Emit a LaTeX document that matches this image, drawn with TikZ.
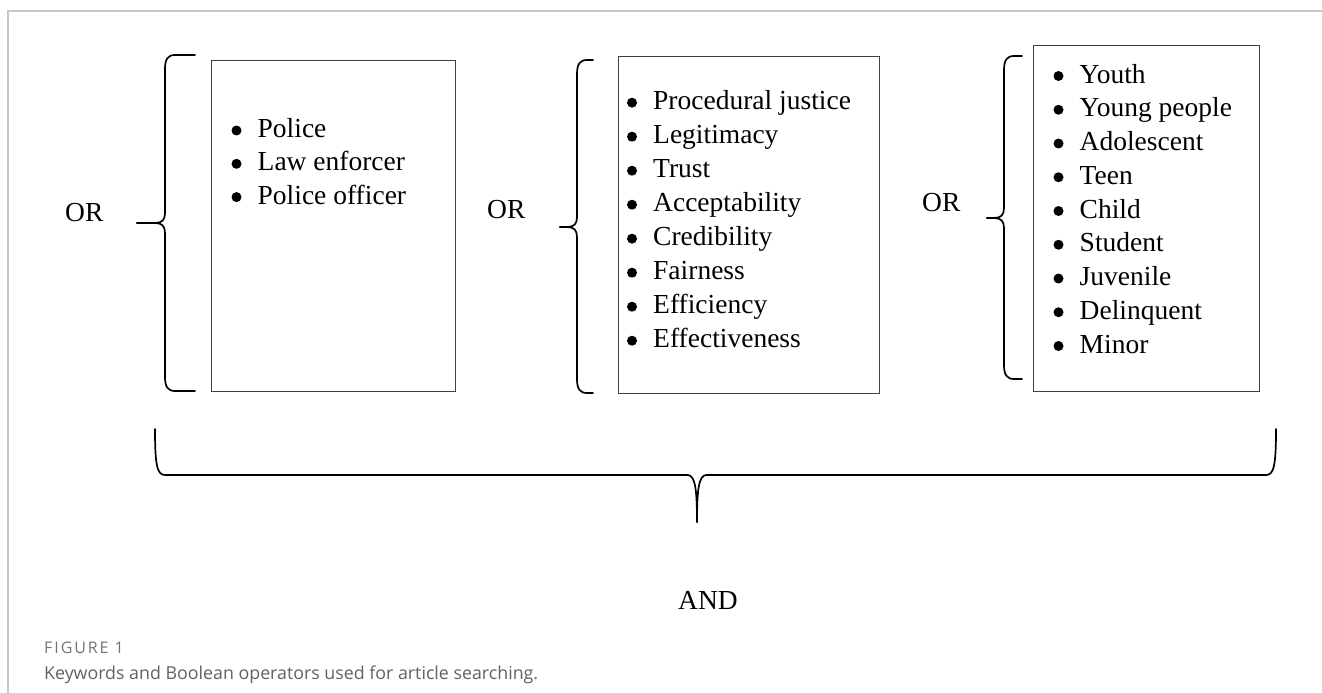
\documentclass[tikz,border=0pt]{standalone}
\usepackage{fontspec}
\setmainfont{Liberation Serif}
\newfontfamily\capfont{Open Sans}
\newfontfamily\labfont[LetterSpace=12]{Open Sans}

% curly brace opening to the right: arm end x, stem x, tip x, top y, tip y, bottom y
\newcommand{\kwbrace}[6]{%
  \draw[brace] (#1,#4) -- (#2+10,#4) .. controls (#2+3,#4) and (#2,#4+4) .. (#2,#4+14)
    -- (#2,#5-10) .. controls (#2,#5-3) and (#2-3,#5) .. (#2-10,#5) -- (#3,#5);
  \draw[brace] (#3,#5) -- (#2-10,#5) .. controls (#2-3,#5) and (#2,#5+3) .. (#2,#5+10)
    -- (#2,#6-14) .. controls (#2,#6-4) and (#2+3,#6) .. (#2+10,#6) -- (#1,#6);
}

\begin{document}
\begin{tikzpicture}[x=1pt,y=-1pt,
  frame/.style={draw=black!22, line width=1.4pt},
  kwbox/.style={draw=black!75, line width=1.1pt, inner sep=0pt, anchor=north west},
  brace/.style={draw=black, line width=1.7pt, line join=round, line cap=round},
  term/.style={font=\fontsize{27.5}{33}\selectfont, inner sep=0pt, anchor=base west},
  op/.style={font=\fontsize{27.5}{33}\selectfont, inner sep=0pt, anchor=base west},
  capfig/.style={font=\labfont\fontsize{16}{19}\selectfont, text=black!55, inner sep=0pt, anchor=west},
  captext/.style={font=\capfont\fontsize{17.8}{21}\selectfont, text=black!62, inner sep=0pt, anchor=west},
]
\useasboundingbox (0,0) rectangle (1322,693);

% page frame
\draw[frame] (8,693) -- (8,11) -- (1322,11);

% keyword boxes
\node[kwbox, minimum width=244pt, minimum height=331pt] (box1) at (211,60) {};
\node[kwbox, minimum width=261pt, minimum height=337pt] (box2) at (618,56) {};
\node[kwbox, minimum width=226pt, minimum height=346pt] (box3) at (1033,45) {};

% keyword lists
\foreach \t [count=\i] in {Police, Law enforcer, Police officer} {
  \fill (236.5,{137.5+33.3*(\i-1)-7}) circle (5pt);
  \node[term] (ka\i) at (257.5,{137.5+33.3*(\i-1)}) {\t};
}
\foreach \t [count=\i] in {Procedural justice, Legitimacy, Trust, Acceptability,
    Credibility, Fairness, Efficiency, Effectiveness} {
  \fill (632,{109.7+34*(\i-1)-7}) circle (5pt);
  \node[term] (kb\i) at (653,{109.7+34*(\i-1)}) {\t};
}
\foreach \t [count=\i] in {Youth, Young people, Adolescent, Teen, Child,
    Student, Juvenile, Delinquent, Minor} {
  \fill (1058.5,{83+33.75*(\i-1)-7}) circle (5pt);
  \node[term] (kc\i) at (1079.5,{83+33.75*(\i-1)}) {\t};
}

% braces grouping each list
\kwbrace{195}{165}{137}{55}{223}{391}
\kwbrace{593}{577}{560}{60}{227}{393}
\kwbrace{1022}{1004}{987}{56}{218}{379}

% operators
\node[op] (or1) at (65,221) {OR};
\node[op] (or2) at (487,218) {OR};
\node[op] (or3) at (922,211) {OR};
\node[op] (and) at (678,609) {AND};

% brace joining the three groups
\draw[brace] (155,429) .. controls (155,465) and (157,475) .. (165,475) -- (688,475)
  .. controls (695,476) and (697,488) .. (697,522);
\draw[brace] (697,522) .. controls (697,488) and (699,476) .. (706,475) -- (1266,475)
  .. controls (1274,475) and (1276,465) .. (1276,429);

% caption
\node[capfig] (figlabel) at (44,648) {FIGURE 1};
\node[captext] (caption) at (44,675) {Keywords and Boolean operators used for article searching.};
\end{tikzpicture}
\end{document}
